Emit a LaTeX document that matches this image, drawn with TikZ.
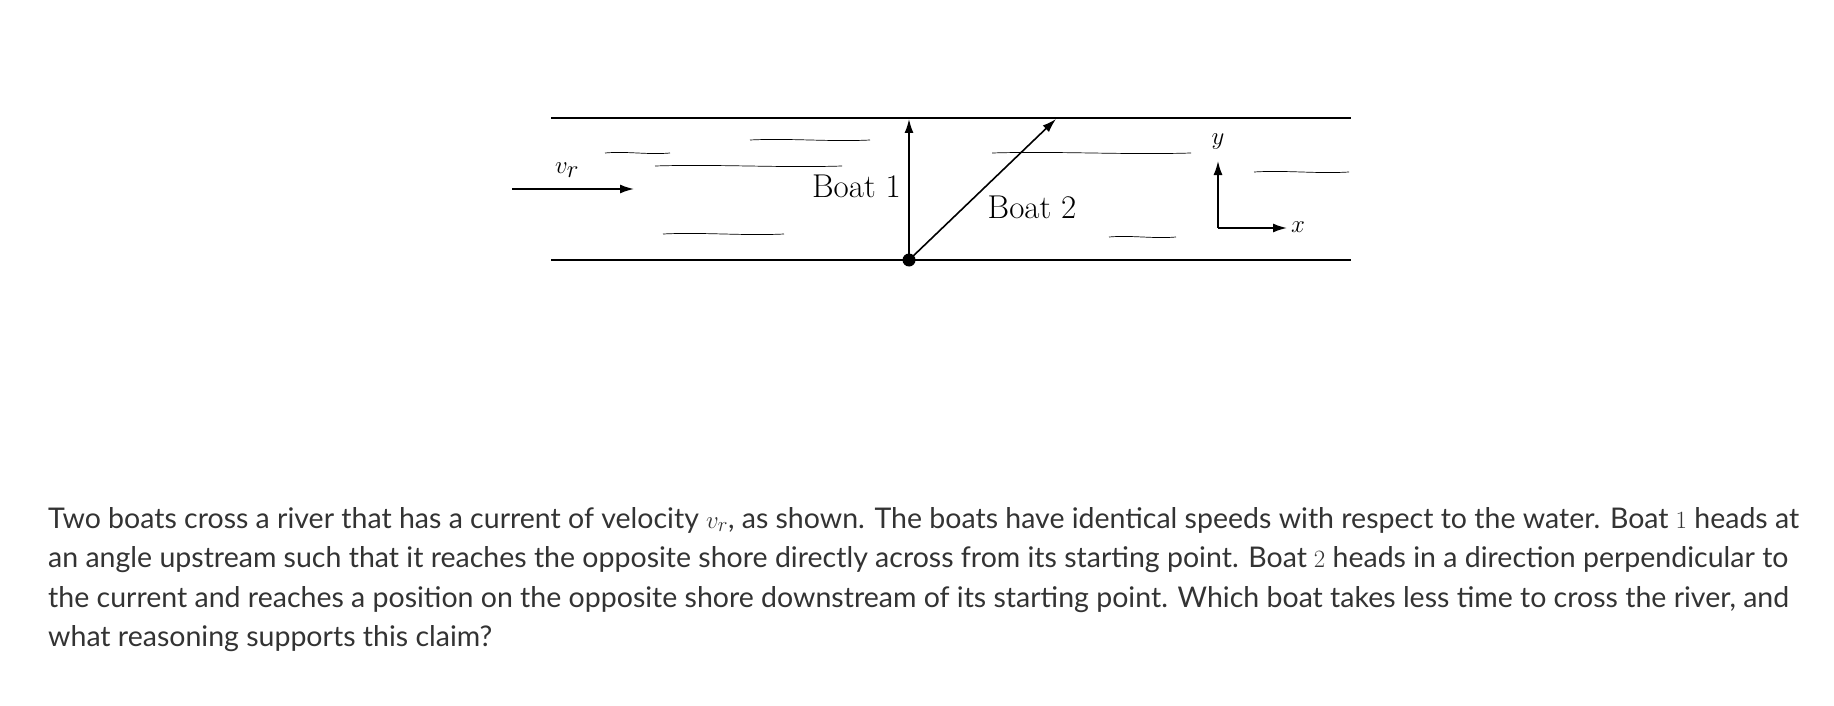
\documentclass[tikz,border=0pt]{standalone}
\usepackage{fontspec}
\newfontfamily\textsans{Lato}
\usetikzlibrary{arrows.meta}
\begin{document}
\begin{tikzpicture}[x=1pt,y=-1pt,
    shore/.style={line width=1.8pt},
    vec/.style={line width=1.6pt,-{Latex[length=14pt,width=9pt]}},
    streak/.style={line width=0.7pt},
    lbl/.style={font=\fontsize{33}{38}\selectfont, inner sep=0pt}
  ]
  \useasboundingbox (0,0) rectangle (1834,706);
  % shores
  \coordinate (TL) at (551,118); \coordinate (TR) at (1351,118);
  \coordinate (BL) at (551,260); \coordinate (BR) at (1351,260);
  \draw[shore] (TL) -- (TR);
  \draw[shore] (BL) -- (BR);
  % water streaks
  \foreach \a/\b/\y in {605/670/153, 750/870/140, 655/842/166, 663/784/234, 992/1191/153, 1109/1176/237, 1254/1349/172}
    \draw[streak] (\a,\y) .. controls ({(2*\a+\b)/3},\y-2) and ({(\a+2*\b)/3},\y+2) .. (\b,\y);
  % current
  \coordinate (vs) at (512,189); \coordinate (ve) at (634,189);
  \draw[vec] (vs) -- (ve);
  \node[lbl] (vr) at (567,170) {$v_r$};
  % boats
  \node[circle,fill,inner sep=0pt,minimum size=13pt] (start) at (909,260) {};
  \coordinate (b1) at (909,119); \coordinate (b2) at (1056,119);
  \draw[vec] (start.center) -- (b1);
  \draw[vec] (start.center) -- (b2);
  \node[lbl,anchor=east] (boat1) at (901,186) {Boat 1};
  \node[lbl] (boat2) at (1032,207) {Boat 2};
  % axes
  \coordinate (O) at (1218,228);
  \coordinate (ya) at (1218,161); \coordinate (xa) at (1287,228);
  \draw[vec] (O) -- (ya);
  \draw[vec] (O) -- (xa);
  \node[lbl] (ylab) at (1218,142) {$y$};
  \node[lbl] (xlab) at (1298,227) {$x$};
  % question
  \node[anchor=north west,align=left,inner sep=0pt,text=black!80,
        font=\textsans\fontsize{28.5}{39.5}\selectfont] (question) at (48,507)
  {Two boats cross a river that has a current of velocity $v_r$, as shown. The boats have identical speeds with respect to the water. Boat $1$ heads at\\
   an angle upstream such that it reaches the opposite shore directly across from its starting point. Boat $2$ heads in a direction perpendicular to\\
   the current and reaches a position on the opposite shore downstream of its starting point. Which boat takes less time to cross the river, and\\
   what reasoning supports this claim?};
\end{tikzpicture}
\end{document}
